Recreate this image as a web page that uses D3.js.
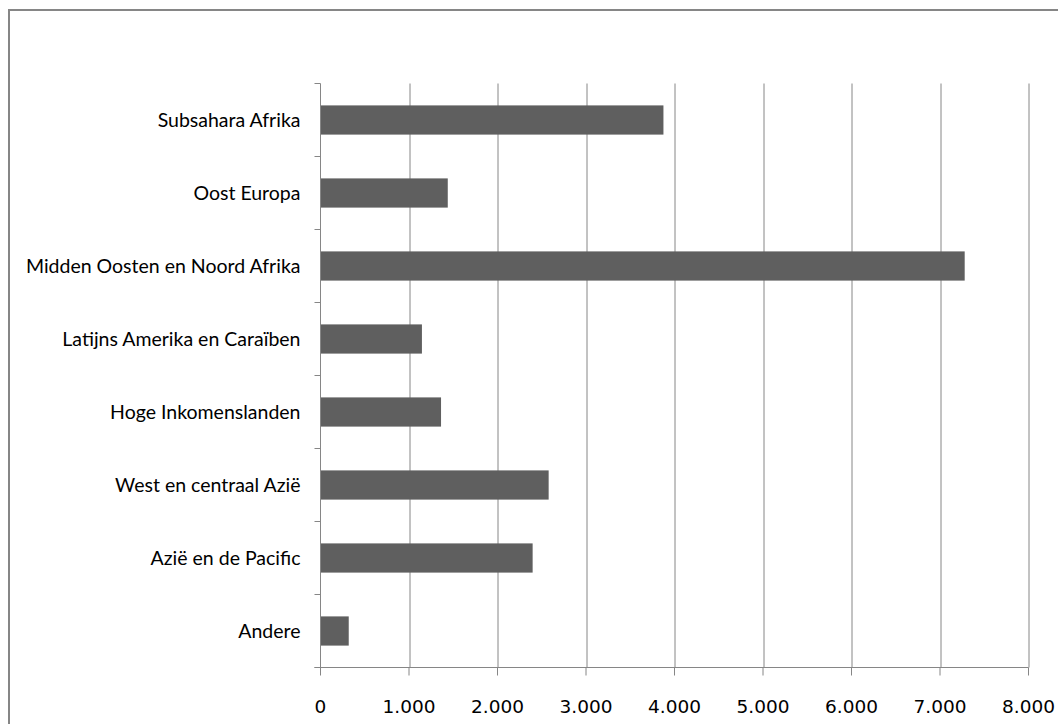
<!DOCTYPE html>
<html lang="nl">
  <head>
    <meta charset="UTF-8" />
    <title>Regio's</title>
    <script src="https://d3js.org/d3.v7.min.js"></script>
    <style>
      body {
        margin: 0;
        background: #ffffff;
      }
      .cat-label {
        font-family: Lato, "Liberation Sans", sans-serif;
        font-size: 19.5px;
        fill: #000;
      }
      .tick-label {
        font-family: "DejaVu Sans", sans-serif;
        font-size: 18.5px;
        fill: #000;
      }
    </style>
  </head>
  <body>
    <div id="chart"></div>
    <script>
      // categories (top to bottom) and values
      const categories = [
        "Subsahara Afrika",
        "Oost Europa",
        "Midden Oosten en Noord Afrika",
        "Latijns Amerika en Caraïben",
        "Hoge Inkomenslanden",
        "West en centraal Azië",
        "Azië en de Pacific",
        "Andere",
      ];
      const values = [3875, 1438, 7279, 1146, 1362, 2578, 2397, 319];
      const xTicks = [0, 1000, 2000, 3000, 4000, 5000, 6000, 7000, 8000];
      const xTickLabels = ["0", "1.000", "2.000", "3.000", "4.000", "5.000", "6.000", "7.000", "8.000"];

      const W = 1058,
        H = 724;
      const margin = { top: 83.5, right: 29.5, bottom: 56.5, left: 320.5 },
        width = W - margin.left - margin.right,
        height = H - margin.top - margin.bottom;

      const lineColor = "#868686";
      const barColor = "#5f5f5f";

      const root = d3
        .select("#chart")
        .append("svg")
        .attr("width", W)
        .attr("height", H);

      // chart frame (runs off the right and bottom edges)
      root
        .append("rect")
        .attr("x", 9)
        .attr("y", 10)
        .attr("width", W + 20)
        .attr("height", H + 20)
        .attr("fill", "none")
        .attr("stroke", lineColor)
        .attr("stroke-width", 2);

      const svg = root
        .append("g")
        .attr("transform", `translate(${margin.left}, ${margin.top})`);

      const x = d3.scaleLinear().domain([0, 8000]).range([0, width]);

      const y = d3
        .scaleBand()
        .domain(categories)
        .range([0, height])
        .paddingInner(0.6)
        .paddingOuter(0.3);

      // vertical gridlines
      svg
        .selectAll(".grid")
        .data(xTicks.slice(1))
        .enter()
        .append("line")
        .attr("class", "grid")
        .attr("x1", (d) => Math.round(x(d)) + 0.5)
        .attr("x2", (d) => Math.round(x(d)) + 0.5)
        .attr("y1", 0)
        .attr("y2", height)
        .attr("stroke", lineColor)
        .attr("stroke-width", 1);

      // bars
      svg
        .selectAll(".bar")
        .data(values)
        .enter()
        .append("rect")
        .attr("class", "bar")
        .attr("x", x(0))
        .attr("y", (d, i) => y(categories[i]))
        .attr("width", (d) => x(d) - x(0))
        .attr("height", y.bandwidth())
        .attr("fill", barColor);

      // y axis line and tick marks at band boundaries
      svg
        .append("line")
        .attr("x1", 0)
        .attr("x2", 0)
        .attr("y1", 0)
        .attr("y2", height)
        .attr("stroke", lineColor);

      const bounds = d3.range(categories.length + 1).map((i) => i * y.step());
      svg
        .selectAll(".ytick")
        .data(bounds)
        .enter()
        .append("line")
        .attr("class", "ytick")
        .attr("x1", -6)
        .attr("x2", 0)
        .attr("y1", (d) => d)
        .attr("y2", (d) => d)
        .attr("stroke", lineColor);

      // category labels
      svg
        .selectAll(".cat-label")
        .data(categories)
        .enter()
        .append("text")
        .attr("class", "cat-label")
        .attr("x", -20)
        .attr("y", (d) => y(d) + y.bandwidth() / 2)
        .attr("dy", "0.35em")
        .attr("text-anchor", "end")
        .text((d) => d);

      // x axis line, ticks and labels
      svg
        .append("line")
        .attr("x1", -6)
        .attr("x2", width)
        .attr("y1", height)
        .attr("y2", height)
        .attr("stroke", lineColor);

      svg
        .selectAll(".xtick")
        .data(xTicks)
        .enter()
        .append("line")
        .attr("class", "xtick")
        .attr("x1", (d) => x(d))
        .attr("x2", (d) => x(d))
        .attr("y1", height)
        .attr("y2", height + 8)
        .attr("stroke", lineColor);

      svg
        .selectAll(".tick-label")
        .data(xTicks)
        .enter()
        .append("text")
        .attr("class", "tick-label")
        .attr("x", (d) => x(d))
        .attr("y", height + 45)
        .attr("text-anchor", "middle")
        .text((d, i) => xTickLabels[i]);
    </script>
  </body>
</html>
